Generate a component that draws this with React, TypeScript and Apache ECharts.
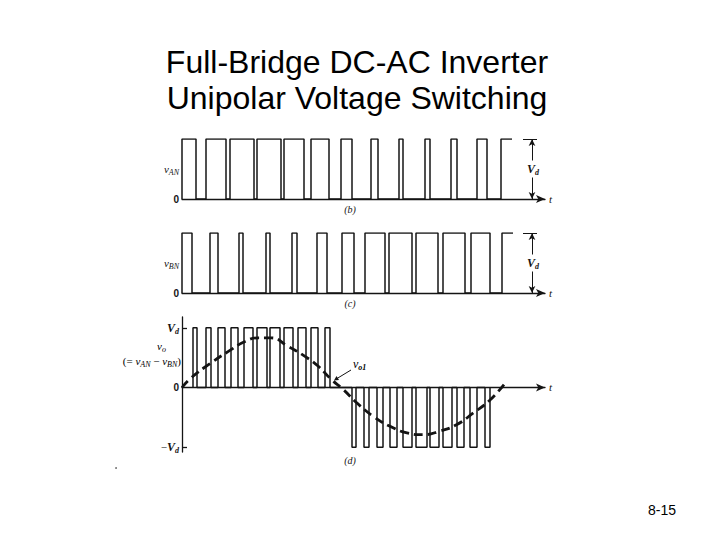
import React, { useEffect, useRef } from "react";
import * as echarts from "echarts";

// ---- data (time axis in arbitrary units, 0 .. T_MAX) ----
const T_MAX = 363;
const T_LABEL_POS = 168;
const VD_MARK_T = 350;

// v_AN pulses (start, end) — last one is cut open at the right edge
const vanPulses: number[][] = [
  [0, 14], [24, 44], [48, 72], [75, 99], [102, 122], [129, 147], [159, 170],
  [189, 196], [217, 221], [243, 248], [269, 275], [295, 305], [319, 330],
];
// v_BN pulses
const vbnPulses: number[][] = [
  [0, 10], [28, 36], [57, 61], [84, 88], [110, 115], [135, 145], [160, 172],
  [183, 203], [207, 230], [234, 256], [261, 283], [289, 308], [320, 331],
];
// v_o positive pulses (+Vd)
const voPosPulses: number[][] = [
  [11, 15], [24, 29], [36, 43], [49, 56], [62, 71], [75, 85], [88, 98],
  [102, 111], [116, 124], [129, 136], [143, 148],
];
// v_o negative pulses (−Vd)
const voNegPulses: number[][] = [
  [170, 174], [182, 187], [195, 201], [208, 215], [221, 230], [234, 245],
  [248, 257], [261, 270], [275, 282], [288, 295], [303, 308],
];
// fundamental v_o1
const vo1T = [0, 9, 28, 46, 63, 76, 89, 106, 123, 136, 149, 161, 175, 191, 208, 225, 241, 258, 275, 291, 308, 323];
const vo1V = [0, 0.16, 0.4, 0.6, 0.77, 0.83, 0.83, 0.69, 0.52, 0.36, 0.14, -0.03, -0.26, -0.48, -0.65, -0.76, -0.79, -0.73, -0.62, -0.43, -0.21, 0.07];

const panelLabels = ["(b)", "(c)", "(d)"];
const dTickValues = [-1, 1];
const dLabelValues = [-1, 0, 1];

const INK = "#141414";
const SERIF = "Liberation Serif";
const SANS = "Liberation Sans";

function wave(pulses: number[][], sign: number, openLast: boolean) {
  const pts: number[][] = [];
  pulses.forEach(([a, b], i) => {
    pts.push([a, 0], [a, sign], [b, sign]);
    if (!(openLast && i === pulses.length - 1)) pts.push([b, 0]);
  });
  return pts;
}

const rich: any = {
  v: { fontFamily: SERIF, fontStyle: "italic", fontSize: 11, color: INK, lineHeight: 15 },
  s: { fontFamily: SERIF, fontStyle: "italic", fontSize: 8, color: INK, lineHeight: 6, verticalAlign: "bottom" },
  V: { fontFamily: SERIF, fontStyle: "italic", fontWeight: "bold", fontSize: 12, color: INK, lineHeight: 15 },
  sd: { fontFamily: SERIF, fontStyle: "italic", fontWeight: "bold", fontSize: 8, color: INK, lineHeight: 6, verticalAlign: "bottom" },
  z: { fontFamily: SANS, fontWeight: "bold", fontSize: 10, color: INK, lineHeight: 14 },
  m: { fontFamily: SERIF, fontSize: 11, color: INK, lineHeight: 15 },
  vb: { fontFamily: SERIF, fontStyle: "italic", fontSize: 12, color: INK, lineHeight: 15 },
  sb: { fontFamily: SERIF, fontStyle: "italic", fontWeight: "bold", fontSize: 8, color: INK, lineHeight: 6, verticalAlign: "bottom" },
};

function xAxisFor(i: number, margin: number) {
  return {
    type: "value",
    gridIndex: i,
    min: 0,
    max: T_MAX,
    splitLine: { show: false },
    axisTick: { show: false },
    axisLine: {
      show: true,
      onZero: true,
      symbol: ["none", "arrow"],
      symbolSize: [6, 9],
      lineStyle: { color: INK, width: 1.3 },
    },
    axisLabel: {
      customValues: [T_LABEL_POS],
      formatter: () => panelLabels[i],
      fontFamily: SERIF,
      fontStyle: "italic",
      fontSize: 10,
      color: INK,
      margin,
    },
    name: "t",
    nameLocation: "end",
    nameGap: 4,
    nameTextStyle: { fontFamily: SERIF, fontStyle: "italic", fontSize: 11, color: INK },
  };
}

function topYAxis(i: number, sub: string) {
  return {
    type: "value",
    gridIndex: i,
    min: 0,
    max: 1,
    splitLine: { show: false },
    axisLine: { show: false },
    axisTick: { show: false },
    axisLabel: {
      customValues: [0, 0.5],
      margin: 3,
      formatter: (v: number) => (v === 0 ? "{z|0}" : `{v|v}{s|${sub}}`),
      rich,
    },
  };
}

function vdMark(top: number) {
  return {
    silent: true,
    symbol: ["arrow", "arrow"],
    symbolSize: [5, 7],
    label: { show: false },
    lineStyle: { color: INK, width: 1, type: "solid" },
    data: [
      [{ coord: [VD_MARK_T, 0] }, { coord: [VD_MARK_T, top] }],
      [
        { coord: [VD_MARK_T - 9, top], symbol: "none" },
        { coord: [VD_MARK_T + 5, top], symbol: "none" },
      ],
    ],
  };
}

function vdLabel() {
  return {
    silent: true,
    symbol: "rect",
    symbolSize: 0,
    label: {
      show: true,
      position: "inside",
      formatter: "{V|V}{sd|d}",
      rich,
      backgroundColor: "#fff",
      padding: [1, 1],
    },
    data: [{ coord: [VD_MARK_T + 1, 0.5] }],
  };
}

const lineBase = {
  type: "line",
  showSymbol: false,
  symbol: "none",
  silent: true,
  lineStyle: { color: INK, width: 1.5 },
};

const option: any = {
  animation: false,
  backgroundColor: "#fff",
  title: {
    text: "Full-Bridge DC-AC Inverter\nUnipolar Voltage Switching",
    left: 352,
    top: 39,
    textAlign: "center",
    textStyle: {
      fontFamily: SANS,
      fontSize: 32,
      fontWeight: "normal",
      lineHeight: 36,
      color: "#000",
    },
  },
  grid: [
    { left: 182, top: 139, width: 363, height: 60 },
    { left: 182, top: 233, width: 363, height: 60 },
    { left: 182, top: 317, width: 363, height: 135 },
  ],
  xAxis: [xAxisFor(0, 5), xAxisFor(1, 5), xAxisFor(2, 3)],
  yAxis: [
    topYAxis(0, "AN"),
    topYAxis(1, "BN"),
    {
      type: "value",
      gridIndex: 2,
      min: -1.08,
      max: 1.18,
      splitLine: { show: false },
      axisLine: { show: true, onZero: true, lineStyle: { color: INK, width: 1.3 } },
      axisTick: { show: true, customValues: dTickValues, inside: true, length: 5, lineStyle: { color: INK, width: 1.3 } },
      axisLabel: {
        customValues: dLabelValues,
        margin: 3,
        formatter: (v: number) => (v === 0 ? "{z|0}" : v > 0 ? "{V|V}{sd|d}" : "{m|−}{V|V}{sd|d}"),
        rich,
      },
    },
  ],
  series: [
    {
      ...lineBase,
      name: "vAN",
      xAxisIndex: 0,
      yAxisIndex: 0,
      data: wave(vanPulses, 1, true),
      markLine: vdMark(1),
      markPoint: vdLabel(),
    },
    {
      ...lineBase,
      name: "vBN",
      xAxisIndex: 1,
      yAxisIndex: 1,
      data: wave(vbnPulses, 1, true),
      markLine: vdMark(1),
      markPoint: vdLabel(),
    },
    {
      ...lineBase,
      name: "vo",
      xAxisIndex: 2,
      yAxisIndex: 2,
      data: wave(voPosPulses, 1, false).concat(wave(voNegPulses, -1, false)),
    },
    {
      ...lineBase,
      name: "vo1",
      xAxisIndex: 2,
      yAxisIndex: 2,
      smooth: true,
      data: vo1T.map((t, i) => [t, vo1V[i]]),
      lineStyle: { color: INK, width: 2.8, type: [9, 5] },
    },
  ],
  graphic: [
    {
      type: "text",
      left: 157,
      top: 340,
      style: { text: "{v|v}{s|o}", rich },
    },
    {
      type: "text",
      right: 720 - 181,
      top: 355,
      style: { text: "{m|(= }{v|v}{s|AN}{m| − }{v|v}{s|BN}{m|)}", rich },
    },
    {
      type: "text",
      left: 353,
      top: 358,
      style: { text: "{vb|v}{sb|o1}", rich },
    },
    {
      type: "line",
      shape: { x1: 351, y1: 370, x2: 337, y2: 378.5 },
      style: { stroke: INK, lineWidth: 1 },
    },
    {
      type: "polygon",
      shape: { points: [[334, 380.5], [336.5, 376], [339, 380]] },
      style: { fill: INK },
    },
    {
      type: "text",
      left: 648,
      top: 503,
      style: { text: "8-15", fontFamily: SANS, fontSize: 14, fill: "#000" },
    },
    {
      type: "circle",
      shape: { cx: 116, cy: 468, r: 0.8 },
      style: { fill: "#555" },
    },
  ],
};

export default function App() {
  const ref = useRef<HTMLDivElement>(null);
  useEffect(() => {
    const chart = echarts.init(ref.current!, null, { renderer: "svg" });
    chart.setOption(option);
    return () => chart.dispose();
  }, []);
  return (
    <div
      ref={ref}
      style={{ position: "absolute", left: 0, top: 0, width: 720, height: 540, background: "#fff" }}
    />
  );
}
